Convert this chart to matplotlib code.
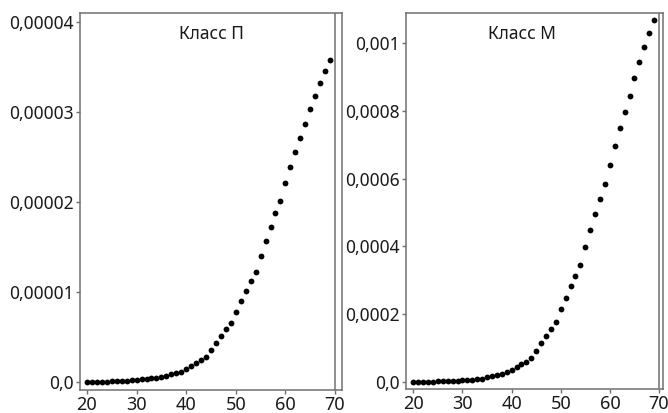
import matplotlib
matplotlib.use('Agg')
from matplotlib import pyplot as plt
import numpy as np

plt.rcParams['font.family'] = ['Noto Sans', 'DejaVu Sans']

# возраст (ось X) одинаков для обеих панелей
vozrast = list(range(20, 70))

# класс П, значения в единицах 1e-5
klass_p = [0.0, 0.0, 0.0, 0.0, 0.0, 0.004, 0.007, 0.007, 0.011, 0.015,
           0.022, 0.026, 0.030, 0.037, 0.044, 0.052, 0.063, 0.081, 0.096, 0.104,
           0.137, 0.178, 0.207, 0.241, 0.270, 0.352, 0.433, 0.507, 0.581, 0.648,
           0.774, 0.896, 1.007, 1.115, 1.219, 1.396, 1.563, 1.722, 1.870, 2.007,
           2.204, 2.381, 2.552, 2.711, 2.859, 3.026, 3.178, 3.322, 3.456, 3.574]

# класс М, значения в единицах 1e-3
klass_m = [0.0, 0.0, 0.0, 0.0, 0.0, 0.001, 0.001, 0.001, 0.001, 0.002,
           0.004, 0.005, 0.006, 0.007, 0.008, 0.013, 0.017, 0.021, 0.024, 0.029,
           0.034, 0.044, 0.052, 0.059, 0.069, 0.092, 0.114, 0.136, 0.157, 0.177,
           0.214, 0.248, 0.282, 0.313, 0.345, 0.397, 0.447, 0.496, 0.540, 0.583,
           0.641, 0.697, 0.751, 0.798, 0.844, 0.897, 0.945, 0.989, 1.031, 1.069]

x_ticks = [20, 30, 40, 50, 60, 70]
p_ticks = [0, 1e-5, 2e-5, 3e-5, 4e-5]
p_labels = ['0,0', '0,00001', '0,00002', '0,00003', '0,00004']
m_ticks = [0, 2e-4, 4e-4, 6e-4, 8e-4, 1e-3]
m_labels = ['0,0', '0,0002', '0,0004', '0,0006', '0,0008', '0,001']

seryj = '#707070'
tekst = '#1a1a1a'

fig = plt.figure(figsize=(6.68, 4.13), dpi=100)
ax1 = fig.add_axes([80/668, 23/413, 262/668, 377/413])
ax2 = fig.add_axes([406/668, 24/413, 257/668, 376/413])

panels = [
    (ax1, np.array(klass_p) * 1e-5, p_ticks, p_labels, 'Класс П', 0.5, (18.59, 71.41), (-0.92e-6, 4.097e-5)),
    (ax2, np.array(klass_m) * 1e-3, m_ticks, m_labels, 'Класс М', 0.45, (18.51, 70.81), (-2.16e-5, 1.0899e-3)),
]

for ax, y, yt, yl, title, tx, xlim, ylim in panels:
    ax.plot(vozrast, y, 'o', color='black', markersize=4.2, markeredgewidth=0)
    ax.axvline(70, color=seryj, linewidth=1.1)
    ax.set_xlim(*xlim)
    ax.set_ylim(*ylim)
    ax.set_xticks(x_ticks)
    ax.set_yticks(yt)
    ax.set_yticklabels(yl)
    for s in ax.spines.values():
        s.set_color(seryj)
        s.set_linewidth(1.1)
    ax.tick_params(color=seryj, length=3, width=1, labelsize=12.5, labelcolor=tekst, pad=1.5)
    ax.tick_params(axis='x', labelsize=13, pad=1.5)
    ax.text(tx, 0.944, title, transform=ax.transAxes, ha='center', va='center',
            fontsize=12.5, color=tekst)

fig.savefig('out.png', dpi=100)
